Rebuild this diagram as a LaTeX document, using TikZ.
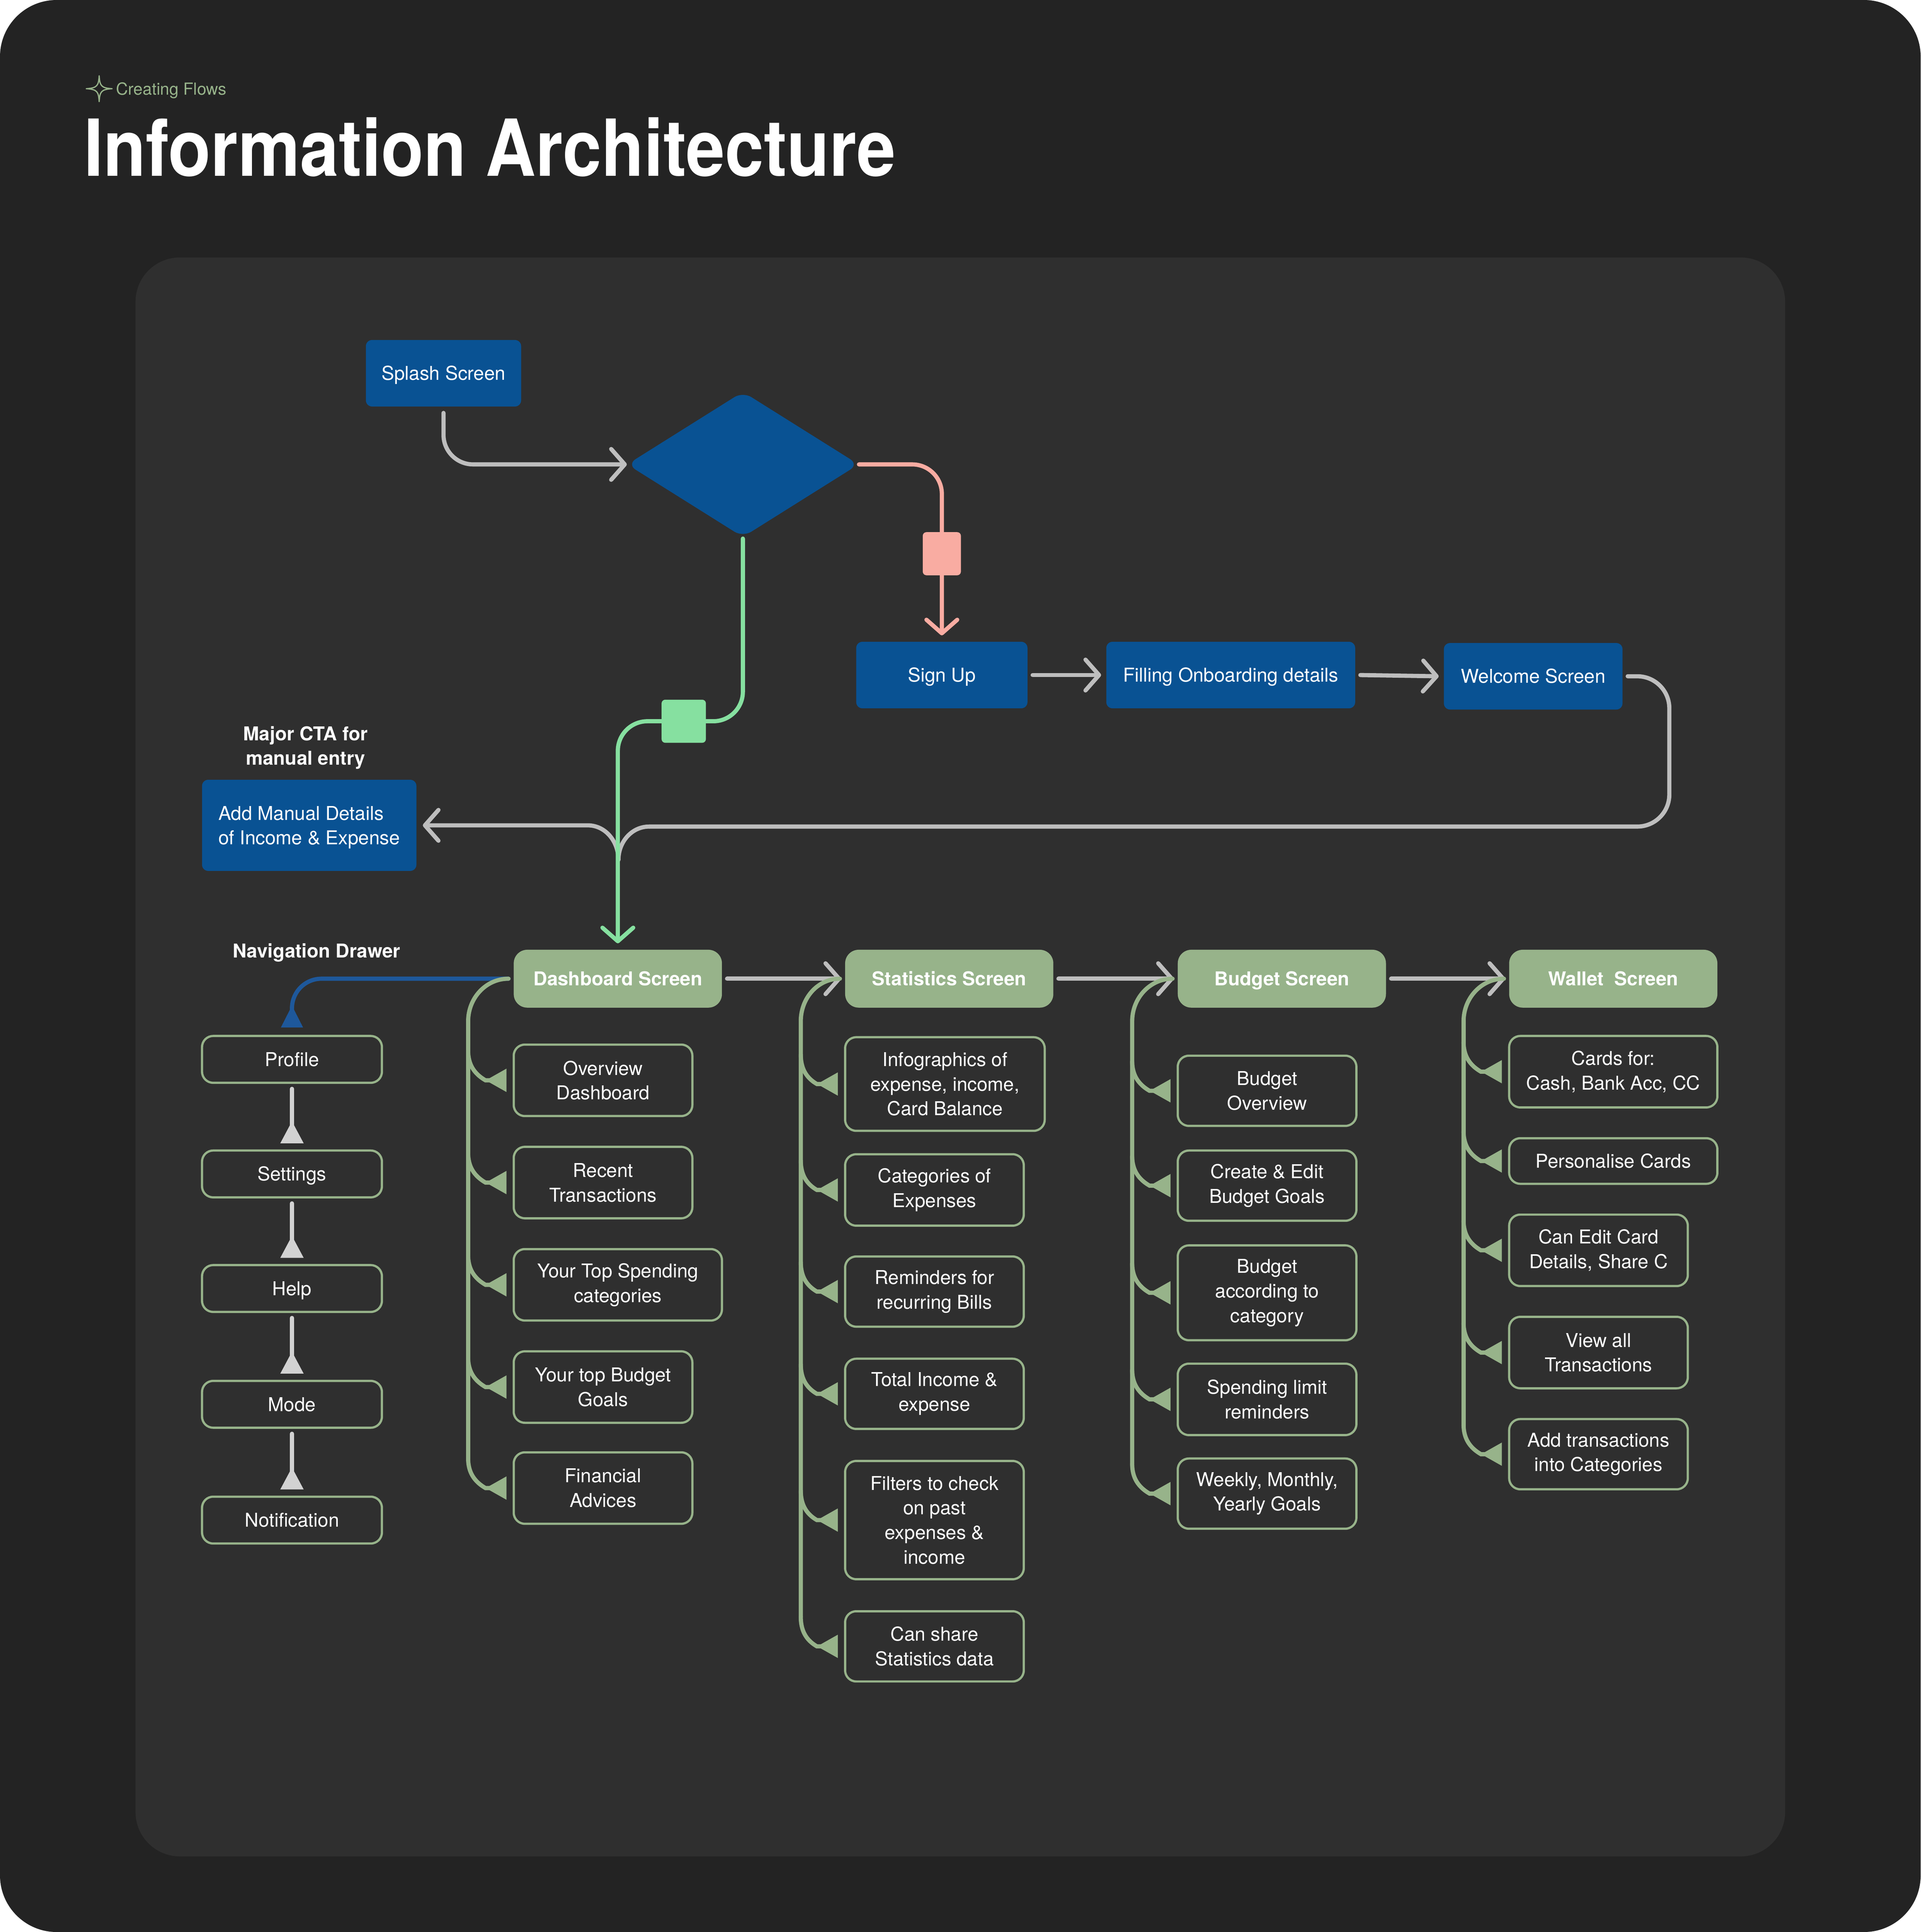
\documentclass[tikz,border=0pt]{standalone}
\usepackage{fontspec}
\setmainfont{TeX Gyre Heros}
\usetikzlibrary{arrows.meta,shapes.geometric,calc}
\pgfdeclarelayer{backdrop}
\pgfdeclarelayer{wires}
\pgfsetlayers{backdrop,wires,main}
\definecolor{outerbg}{RGB}{35,35,35}
\definecolor{panelbg}{RGB}{47,47,47}
\definecolor{blu}{RGB}{9,82,147}
\definecolor{sage}{RGB}{151,179,138}
\definecolor{mint}{RGB}{134,224,160}
\definecolor{pinky}{RGB}{249,172,162}
\definecolor{lgray}{RGB}{190,190,190}
\definecolor{dgray}{RGB}{210,210,210}
\definecolor{navblue}{RGB}{30,88,155}
\newcommand\myfs{\fontsize{15.5}{20}\selectfont}
\newcommand\myfsb{\fontsize{15.5}{20}\selectfont\bfseries}
\newcommand\place[7]{\node[#1, minimum width={(#5-#3)*1pt}, minimum height={(#6-#4)*1pt}] (#2) at ({(#3+#5)/2},{(#4+#6)/2}) {#7};}
\newcommand\branch[2]{\draw[hline, tri] ($(#2.west -| #1)+(0,-24)$) to[out=-90,in=150] ($(#2.west)+(-22,0)$) -- ([xshift=-5pt]#2.west);}
\tikzset{
  oneline/.style={text height=11.1pt, text depth=0pt},
  bluebox/.style={fill=blu, rounded corners=5pt, text=white, align=center, inner sep=0pt, font=\myfs},
  hdr/.style={fill=sage, rounded corners=11pt, text=white, font=\myfsb, inner sep=0pt, oneline},
  item/.style={draw=sage, line width=1.8pt, fill=panelbg, rounded corners=9pt, text=white, align=center, inner sep=0pt, font=\myfs},
  wire/.style={line width=3.4pt, line cap=round},
  gline/.style={wire, draw=lgray},
  pline/.style={wire, draw=pinky},
  mline/.style={wire, draw=mint},
  hline/.style={wire, draw=sage},
  dline/.style={wire, draw=dgray},
  nline/.style={wire, draw=navblue},
  chev/.style={-{Straight Barb[length=11pt,width=25pt,round]}},
  tri/.style={-{Triangle[reversed,length=17pt,width=18pt]}},
  tag/.style={text=white, font=\myfsb, align=center, inner sep=0pt}
}
\begin{document}
\begin{tikzpicture}[x=1pt,y=-1pt]
\useasboundingbox (0,0) rectangle (1559,1568.4);
\begin{pgfonlayer}{backdrop}
\fill[white] (0,0) rectangle (1559,1568.4);
\fill[outerbg, rounded corners=46pt] (0,0) rectangle (1559,1568.4);
\fill[panelbg, rounded corners=36pt] (110,209) rectangle (1449,1507);
\end{pgfonlayer}
% header
\draw[sage, line width=1pt, line join=round] (80.5,61.5) .. controls (81,69.5) and (82,71.5) .. (91,72) .. controls (82,72.5) and (81,74.5) .. (80.5,82.5) .. controls (80,74.5) and (79,72.5) .. (70,72) .. controls (79,71.5) and (80,69.5) .. (80.5,61.5) -- cycle;
\node[anchor=base west, text=sage, font=\fontsize{13.5}{16}\selectfont, inner sep=0pt] (crf) at (94,77) {Creating Flows};
\node[anchor=base west, text=white, font=\fontsize{56.5}{60}\selectfont\bfseries, inner sep=0pt] (ttl) at (68,143) {\scalebox{1}[1.13]{Information Architecture}};
% blue flow nodes
\place{bluebox, oneline}{sp}{297}{276}{423}{330}{Splash Screen}
\node[diamond, fill=blu, minimum width=188pt, minimum height=118pt, inner sep=0pt, rounded corners=8pt] (dia) at (603,377) {};
\place{bluebox, oneline}{su}{695}{521}{834}{575}{Sign Up}
\place{bluebox, oneline}{fo}{898}{521}{1100}{575}{Filling Onboarding details}
\place{bluebox, oneline}{wc}{1172}{522}{1317}{576}{Welcome Screen}
\place{bluebox, align=left, text depth=0pt}{am}{164}{633}{338}{707}{Add Manual Details\\of Income \& Expense}
\node[fill=pinky, rounded corners=3pt, minimum width=31pt, minimum height=35pt, inner sep=0pt] (pk) at (764.5,449.5) {};
\node[fill=mint, rounded corners=3pt, minimum width=36pt, minimum height=35pt, inner sep=0pt] (mr) at (555,585.5) {};
\node[tag] (cta) at (248,607) {Major CTA for\\manual entry};
\node[tag, oneline] (nd) at (257,772) {Navigation Drawer};
% headers
\place{hdr}{db}{417}{771}{586}{818}{Dashboard Screen}
\place{hdr}{stS}{686}{771}{855}{818}{Statistics Screen}
\place{hdr}{bs}{956}{771}{1125}{818}{Budget Screen}
\place{hdr}{ws}{1225}{771}{1394}{818}{Wallet\ \ Screen}
% drawer
\place{item, oneline}{pf}{164}{841}{310}{879}{Profile}
\place{item, oneline}{stt}{164}{934}{310}{972}{Settings}
\place{item, oneline}{hp}{164}{1027}{310}{1065}{Help}
\place{item, oneline}{md}{164}{1121}{310}{1159}{Mode}
\place{item, oneline}{nt}{164}{1215}{310}{1253}{Notification}
% dashboard children
\place{item}{ov}{417}{848}{562}{906}{Overview\\Dashboard}
\place{item}{rt}{417}{931}{562}{989}{Recent\\Transactions}
\place{item}{ts}{417}{1014}{586}{1072}{Your Top Spending\\categories}
\place{item}{tb}{417}{1097}{562}{1155}{Your top Budget\\Goals}
\place{item}{fa}{417}{1179}{562}{1237}{Financial\\Advices}
% statistics children
\place{item}{ig}{686}{842}{848}{918}{Infographics of\\expense, income,\\Card Balance}
\place{item}{ce}{686}{937}{831}{995}{Categories of\\Expenses}
\place{item}{rb}{686}{1020}{831}{1077}{Reminders for\\recurring Bills}
\place{item}{ti}{686}{1103}{831}{1160}{Total Income \&\\expense}
\place{item}{fc}{686}{1186}{831}{1282}{Filters to check\\on past\\expenses \&\\income}
\place{item}{cs}{686}{1308}{831}{1365}{Can share\\Statistics data}
% budget children
\place{item}{bo}{956}{857}{1101}{914}{Budget\\Overview}
\place{item}{cg}{956}{934}{1101}{991}{Create \& Edit\\Budget Goals}
\place{item}{bc}{956}{1011}{1101}{1088}{Budget\\according to\\category}
\place{item}{sl}{956}{1107}{1101}{1165}{Spending limit\\reminders}
\place{item}{wm}{956}{1184}{1101}{1241}{Weekly, Monthly,\\Yearly Goals}
% wallet children
\place{item}{cf}{1225}{841}{1394}{899}{Cards for:\\Cash, Bank Acc, CC}
\place{item, oneline}{pc}{1225}{924}{1394}{961}{Personalise Cards}
\place{item}{ec}{1225}{986}{1370}{1044}{Can Edit Card\\Details, Share C}
\place{item}{va}{1225}{1069}{1370}{1127}{View all\\Transactions}
\place{item}{ac}{1225}{1152}{1370}{1209}{Add transactions\\into Categories}
% named waypoints
\coordinate (rc) at (1355,671);
\coordinate (jr) at (527,671);
\coordinate (jn) at (502,698);
\coordinate (jl) at (477,670);
\coordinate (tkD) at (380,829);
\coordinate (tkS) at (650,829);
\coordinate (tkB) at (919,829);
\coordinate (tkW) at (1188,829);
\begin{pgfonlayer}{wires}
\draw[gline, chev, rounded corners=24pt] ([yshift=-5pt]sp.south) |- (dia.west);
\draw[pline, chev, rounded corners=24pt] (dia.east) -| ([yshift=5pt]su.north);
\draw[gline, chev] ([xshift=4pt]su.east) -- ([xshift=-4pt]fo.west);
\draw[gline, chev] ([xshift=4pt]fo.east) -- ([xshift=-4pt]wc.west);
\draw[gline, rounded corners=26pt] ([xshift=4pt]wc.east) -| (rc) -- (jr);
\draw[gline] (jr) to[out=180,in=90] (jn);
\draw[gline, chev] (jn) to[out=90,in=0] (jl) -- ([xshift=5pt]am.east);
\draw[mline, chev, rounded corners=24pt] ([yshift=-1pt]dia.south) |- (mr.center) -| ([yshift=5pt]db.north);
\draw[gline, chev] ([xshift=4pt]db.east) -- ([xshift=-3pt]stS.west);
\draw[gline, chev] ([xshift=4pt]stS.east) -- ([xshift=-3pt]bs.west);
\draw[gline, chev] ([xshift=4pt]bs.east) -- ([xshift=-3pt]ws.west);
% navigation drawer
\draw[nline, rounded corners=24pt, -{Triangle[reversed,length=18pt,width=17pt]}] ([xshift=-4pt]db.west) -| ([yshift=6pt]pf.north);
\draw[dline, -{Triangle[reversed,length=18pt,width=18pt]}] ([yshift=-4pt]pf.south) -- ([yshift=5pt]stt.north);
\draw[dline, -{Triangle[reversed,length=18pt,width=18pt]}] ([yshift=-4pt]stt.south) -- ([yshift=5pt]hp.north);
\draw[dline, -{Triangle[reversed,length=18pt,width=18pt]}] ([yshift=-4pt]hp.south) -- ([yshift=5pt]md.north);
\draw[dline, -{Triangle[reversed,length=18pt,width=18pt]}] ([yshift=-4pt]md.south) -- ([yshift=5pt]nt.north);
% trunks
\draw[hline] ([xshift=-4pt]db.west) to[out=180,in=90] (tkD) -- ($(fa.west -| tkD)+(0,-24)$);
\draw[hline] ([xshift=-4pt]stS.west) to[out=180,in=90] (tkS) -- ($(cs.west -| tkS)+(0,-24)$);
\draw[hline] ([xshift=-4pt]bs.west) to[out=180,in=90] (tkB) -- ($(wm.west -| tkB)+(0,-24)$);
\draw[hline] ([xshift=-4pt]ws.west) to[out=180,in=90] (tkW) -- ($(ac.west -| tkW)+(0,-24)$);
% branches
\branch{tkD}{ov}\branch{tkD}{rt}\branch{tkD}{ts}\branch{tkD}{tb}\branch{tkD}{fa}
\branch{tkS}{ig}\branch{tkS}{ce}\branch{tkS}{rb}\branch{tkS}{ti}\branch{tkS}{fc}\branch{tkS}{cs}
\branch{tkB}{bo}\branch{tkB}{cg}\branch{tkB}{bc}\branch{tkB}{sl}\branch{tkB}{wm}
\branch{tkW}{cf}\branch{tkW}{pc}\branch{tkW}{ec}\branch{tkW}{va}\branch{tkW}{ac}
\end{pgfonlayer}
\end{tikzpicture}
\end{document}
